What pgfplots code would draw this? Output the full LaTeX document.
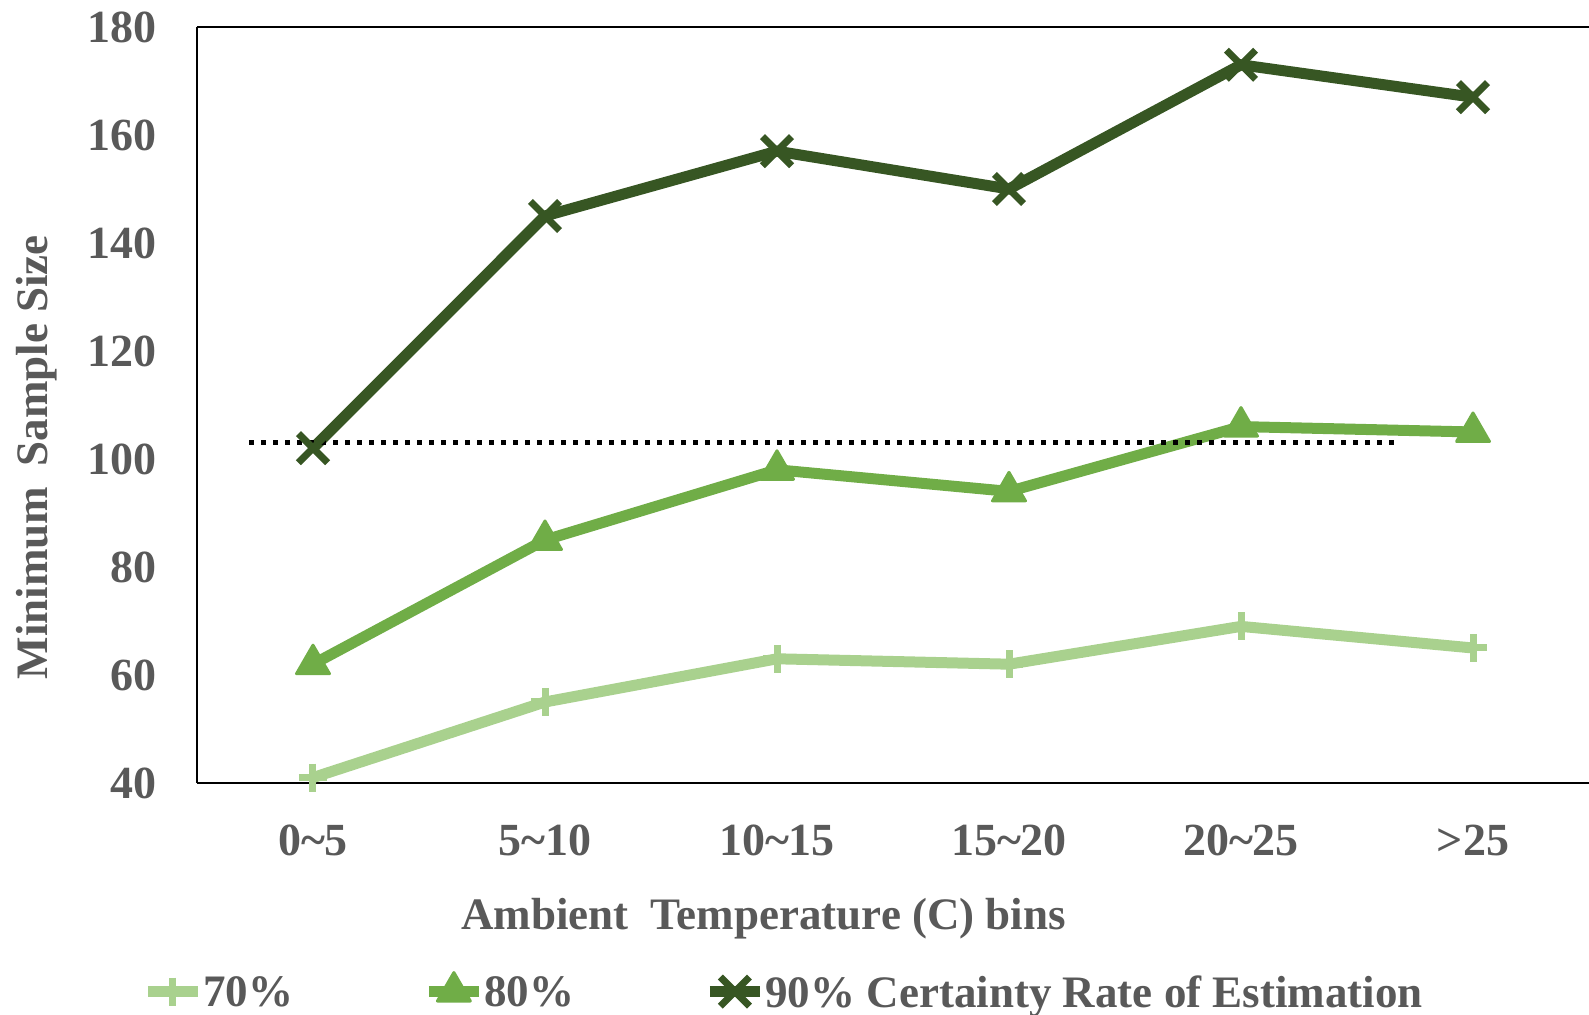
\documentclass[border=0pt]{standalone}
\usepackage{fontspec}
\setmainfont{Liberation Serif}
\usepackage{pgfplots}
\pgfplotsset{compat=1.18}
\definecolor{txt}{HTML}{595959}
\definecolor{cA}{HTML}{A9D18E}
\definecolor{cB}{HTML}{70AD47}
\definecolor{cC}{HTML}{375623}
\newcommand{\F}{\fontsize{23}{27}\selectfont\bfseries}
\newcommand{\FL}{\fontsize{22.5}{27}\selectfont\bfseries}
\begin{document}
\begin{tikzpicture}
\useasboundingbox (-98.5pt,-116pt) rectangle (696pt,391.5pt);
\begin{axis}[
  scale only axis,
  width=696pt, height=378pt,
  at={(0,0)}, anchor=south west,
  xmin=-0.5, xmax=5.5, ymin=40, ymax=180,
  xtick={0,1,2,3,4,5},
  xticklabels={0\textasciitilde 5,5\textasciitilde 10,10\textasciitilde 15,15\textasciitilde 20,20\textasciitilde 25,>25},
  ytick={40,60,...,180},
  major tick length=0pt,
  /pgf/number format/assume math mode=true,
  axis x line*=box, axis y line*=left,
  axis line style={-, black, line width=1pt},
  tick label style={font=\F, text=txt, inner sep=0pt},
  xticklabel style={anchor=base, yshift=-36.5pt},
  yticklabel style={anchor=east, xshift=-20pt},
  xlabel={Ambient\hspace{0.25em} Temperature (C) bins},
  ylabel={Minimum\hspace{0.2em} Sample Size},
  every axis x label/.style={at={(rel axis cs:0.407,0)}, anchor=base, yshift=-73.5pt, font=\FL, text=txt, inner sep=0pt},
  every axis y label/.style={at={(rel axis cs:0,0.431)}, rotate=90, anchor=base, yshift=74.5pt, font=\FL, text=txt, inner sep=0pt},
  clip=false,
  legend columns=3,
  legend cell align=left,
  legend style={at={(rel axis cs:0,0)}, anchor=west, xshift=-27.5pt, yshift=-103.5pt,
    draw=none, inner sep=0pt, font=\FL, text=txt,
    nodes={inner sep=0pt, text depth=0pt},
    /tikz/every even column/.append style={column sep=65pt}},
  legend image code/.code={\draw[mark repeat=2,mark phase=2,#1] plot coordinates {(0pt,0pt)(12.5pt,0pt)(25pt,0pt)};},
]
\addplot[color=cA, line width=5.5pt, mark=+, mark size=7pt, mark options={line width=3.5pt}]
  coordinates {(0,41)(1,55)(2,63)(3,62)(4,69)(5,65)};
\addlegendentry{70\%}
\addplot[color=cB, line width=5.5pt, mark=triangle*, mark size=9.5pt, mark options={line width=1.5pt, line join=round}]
  coordinates {(0,62)(1,85)(2,98)(3,94)(4,106)(5,105)};
\addlegendentry{80\%}
\addplot[color=cC, line width=5.5pt, mark=x, mark size=10.3pt, mark options={line width=3.5pt}]
  coordinates {(0,102)(1,145)(2,157)(3,150)(4,173)(5,167)};
\addlegendentry{90\% Certainty Rate of Estimation}
\addplot[black, line width=2.4pt, dash pattern=on 2.4pt off 3.6pt, forget plot]
  coordinates {(-0.274,103)(4.676,103)};
\end{axis}
\end{tikzpicture}
\end{document}
